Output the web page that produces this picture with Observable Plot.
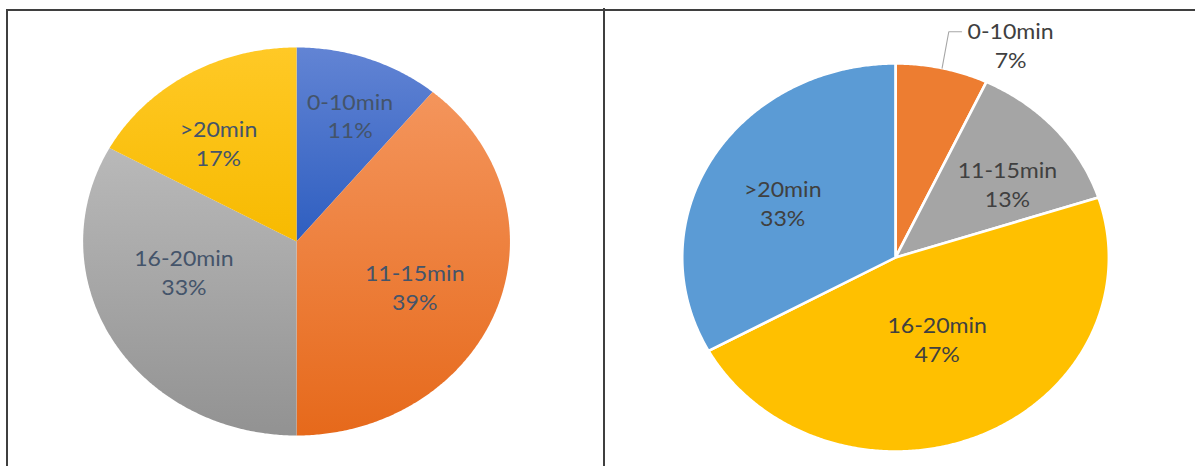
<!DOCTYPE html>
<html>
<head>
<meta charset="utf-8">
<script src="https://cdn.jsdelivr.net/npm/d3@7"></script>
<script src="https://cdn.jsdelivr.net/npm/@observablehq/plot@0.6"></script>
<style>
  html, body { margin: 0; padding: 0; background: #ffffff; }
  #page { position: relative; width: 1195px; height: 466px; overflow: hidden; background: #ffffff; }
  .panel { position: absolute; top: 0; transform-origin: 0 0; }
  .rule { position: absolute; background: #3f3f3f; z-index: 5; }
</style>
</head>
<body>
<div id="page">
  <div class="rule" style="left:7px; top:9px; width:1188px; height:2px;"></div>
  <div class="rule" style="left:6px; top:9px; width:2px; height:457px;"></div>
  <div class="rule" style="left:603px; top:8px; width:2px; height:458px;"></div>
  <div id="left" class="panel"></div>
  <div id="right" class="panel"></div>
</div>
<script>
// ---- data ----
const leftCategories = ["0-10min", "11-15min", "16-20min", ">20min"];
const leftValues = [11, 39, 33, 17];
const rightCategories = ["0-10min", "11-15min", "16-20min", ">20min"];
const rightValues = [7, 13, 47, 33];

// ---- styles ----
const leftGradients = {
  "0-10min": ["#6284D4", "#2E5EC0"],
  "11-15min": ["#F4955C", "#E6691B"],
  "16-20min": ["#B9B9B9", "#929292"],
  ">20min": ["#FFC926", "#F7BA00"]
};
const rightColors = {"0-10min": "#ED7D31", "11-15min": "#A5A5A5", "16-20min": "#FFC000", ">20min": "#5B9BD5"};
// label placement (fraction along slice, fraction of radius)
const leftLabelFrac = [0.53, 0.52, 0.62, 0.42];
const leftLabelR = [0.70, 0.60, 0.55, 0.63];
const rightLabelFrac = [0.5, 0.61, 0.49, 0.48];
const rightLabelR = [1.0, 0.65, 0.46, 0.60];

const K = 1.1; // horizontal stretch of the original image

function slicesOf(cats, values) {
  const total = d3.sum(values);
  let acc = 0;
  return cats.map((c, i) => {
    const a0 = acc / total * 360;
    acc += values[i];
    const a1 = acc / total * 360;
    return {cat: c, value: values[i], a0, a1, i};
  });
}
function pt(angleDeg, r) {
  const t = angleDeg * Math.PI / 180;
  return {x: r * Math.sin(t), y: r * Math.cos(t)};
}
function outline(s) {
  const n = Math.max(2, Math.ceil((s.a1 - s.a0) / 0.5));
  const pts = [{cat: s.cat, x: 0, y: 0}];
  for (let k = 0; k <= n; k++) {
    const p = pt(s.a0 + (s.a1 - s.a0) * k / n, 1);
    pts.push({cat: s.cat, x: p.x, y: p.y});
  }
  pts.push({cat: s.cat, x: 0, y: 0});
  return pts;
}

function pie({cats, values, fillOf, cx, cy, R, width, labelFrac, labelR, labelColor, stroke, strokeWidth, outsideIndex}) {
  const slices = slicesOf(cats, values);
  const poly = slices.flatMap(outline);
  const labels = [];
  const leaders = [];
  slices.forEach((s, i) => {
    const a = s.a0 + (s.a1 - s.a0) * labelFrac[i];
    if (i === outsideIndex) {
      const edge = pt(a, 1.0);
      const elbow = pt(a - 0.5, 1.19);
      const end = {x: elbow.x + 0.06, y: elbow.y};
      leaders.push({k: i, ...edge}, {k: i, ...elbow}, {k: i, ...end});
      labels.push({text: `${s.cat}\n${s.value}%`, x: end.x + 0.23, y: elbow.y - 0.065});
    } else {
      const p = pt(a, labelR[i]);
      labels.push({text: `${s.cat}\n${s.value}%`, x: p.x, y: p.y});
    }
  });
  return Plot.plot({
    width, height: 466, margin: 0,
    style: {background: "transparent", overflow: "visible"},
    x: {domain: [-1, 1], range: [cx - R, cx + R], axis: null},
    y: {domain: [-1, 1], range: [cy + R, cy - R], axis: null},
    color: {type: "identity"},
    marks: [
      Plot.line(poly, {x: "x", y: "y", z: "cat", fill: d => fillOf(d.cat), stroke, strokeWidth, strokeLinejoin: "round", curve: "linear"}),
      Plot.line(leaders, {x: "x", y: "y", z: "k", stroke: "#A6A6A6", strokeWidth: 1}),
      Plot.text(labels, {x: "x", y: "y", text: "text", fill: labelColor, fontSize: 21, fontFamily: "Lato", lineHeight: 1.38, textAnchor: "middle"})
    ]
  });
}

// left panel
const leftSvg = pie({
  cats: leftCategories, values: leftValues,
  fillOf: c => `url(#lg${leftCategories.indexOf(c)})`,
  cx: (296 - 8) / K, cy: 241, R: 194, width: Math.round((603 - 8) / K),
  labelFrac: leftLabelFrac, labelR: leftLabelR, labelColor: "#44546A",
  stroke: "none", strokeWidth: 0, outsideIndex: -1
});
const defs = d3.select(leftSvg).insert("defs", ":first-child");
leftCategories.forEach((c, i) => {
  const g = defs.append("linearGradient").attr("id", `lg${i}`).attr("x1", 0).attr("y1", 0).attr("x2", 0).attr("y2", 1);
  g.append("stop").attr("offset", "0%").attr("stop-color", leftGradients[c][0]);
  g.append("stop").attr("offset", "100%").attr("stop-color", leftGradients[c][1]);
});
const leftDiv = document.getElementById("left");
leftDiv.style.left = "8px";
leftDiv.style.width = Math.round((603 - 8) / K) + "px";
leftDiv.style.transform = `scaleX(${K})`;
leftDiv.appendChild(leftSvg);

// right panel
const rightSvg = pie({
  cats: rightCategories, values: rightValues,
  fillOf: c => rightColors[c],
  cx: (895 - 606) / K, cy: 257, R: 194, width: Math.round((1195 - 606) / K),
  labelFrac: rightLabelFrac, labelR: rightLabelR, labelColor: "#404040",
  stroke: "#ffffff", strokeWidth: 2.5, outsideIndex: 0
});
const rightDiv = document.getElementById("right");
rightDiv.style.left = "606px";
rightDiv.style.width = Math.round((1195 - 606) / K) + "px";
rightDiv.style.transform = `scaleX(${K})`;
rightDiv.appendChild(rightSvg);
</script>
</body>
</html>
